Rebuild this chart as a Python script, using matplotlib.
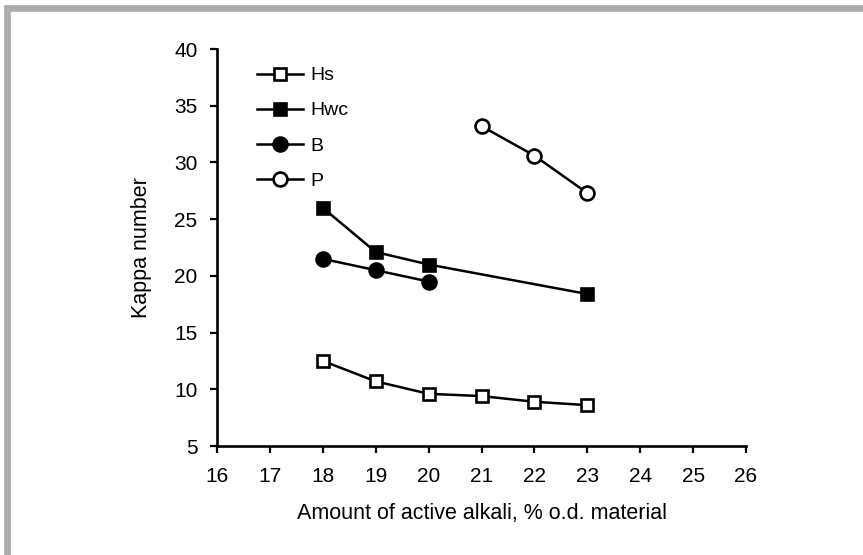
import matplotlib

matplotlib.use("Agg")
import matplotlib.pyplot as plt
from matplotlib.patches import Rectangle

plt.rcParams["font.family"] = ["Liberation Sans", "DejaVu Sans"]

# data
alkali_hs = [18, 19, 20, 21, 22, 23]
kappa_hs = [12.5, 10.7, 9.6, 9.4, 8.9, 8.6]
alkali_hwc = [18, 19, 20, 23]
kappa_hwc = [26.0, 22.1, 21.0, 18.4]
alkali_b = [18, 19, 20]
kappa_b = [21.5, 20.5, 19.5]
alkali_p = [21, 22, 23]
kappa_p = [33.2, 30.6, 27.3]

x_ticks = list(range(16, 27))
y_ticks = list(range(5, 41, 5))

W, H = 863, 555
fig = plt.figure(figsize=(W / 100, H / 100), dpi=100)

# grey frame around the figure (only top and left edges are visible)
fig.patches.append(
    Rectangle((7 / W, -0.1), 1.2, 1.1 - 8 / H, transform=fig.transFigure,
              fill=False, edgecolor="#ababab", linewidth=4.8, zorder=0)
)

ax = fig.add_axes([217 / W, 1 - 446 / H, (746 - 217) / W, (446 - 49) / H])

lw = 1.8
ax.plot(alkali_hs, kappa_hs, "-s", color="black", lw=lw, ms=8.5,
        mfc="white", mec="black", mew=1.9, label="Hs", clip_on=False)
ax.plot(alkali_hwc, kappa_hwc, "-s", color="black", lw=lw, ms=8.5,
        mfc="black", mec="black", mew=1.9, label="Hwc", clip_on=False)
ax.plot(alkali_b, kappa_b, "-o", color="black", lw=lw, ms=10,
        mfc="black", mec="black", mew=1.9, label="B", clip_on=False)
ax.plot(alkali_p, kappa_p, "-o", color="black", lw=lw, ms=10,
        mfc="white", mec="black", mew=1.9, label="P", clip_on=False)

ax.set_xlim(16, 26)
ax.set_ylim(5, 40)
ax.set_xticks(x_ticks)
ax.set_yticks(y_ticks)
ax.tick_params(direction="out", length=5, width=1.6, labelsize=15)
ax.tick_params(axis="x", pad=10)
ax.tick_params(axis="y", pad=9)
for side in ("top", "right"):
    ax.spines[side].set_visible(False)
for side in ("left", "bottom"):
    ax.spines[side].set_linewidth(1.9)

ax.set_xlabel("Amount of active alkali, % o.d. material", fontsize=15.5, labelpad=12)
ax.set_ylabel("Kappa number", fontsize=15.5, labelpad=16)

ax.legend(loc="upper left", bbox_to_anchor=(0.06, 0.975), frameon=False,
          fontsize=14, handlelength=2.4, handletextpad=0.35, labelspacing=0.9,
          borderaxespad=0)

fig.savefig("out.png", dpi=100)
